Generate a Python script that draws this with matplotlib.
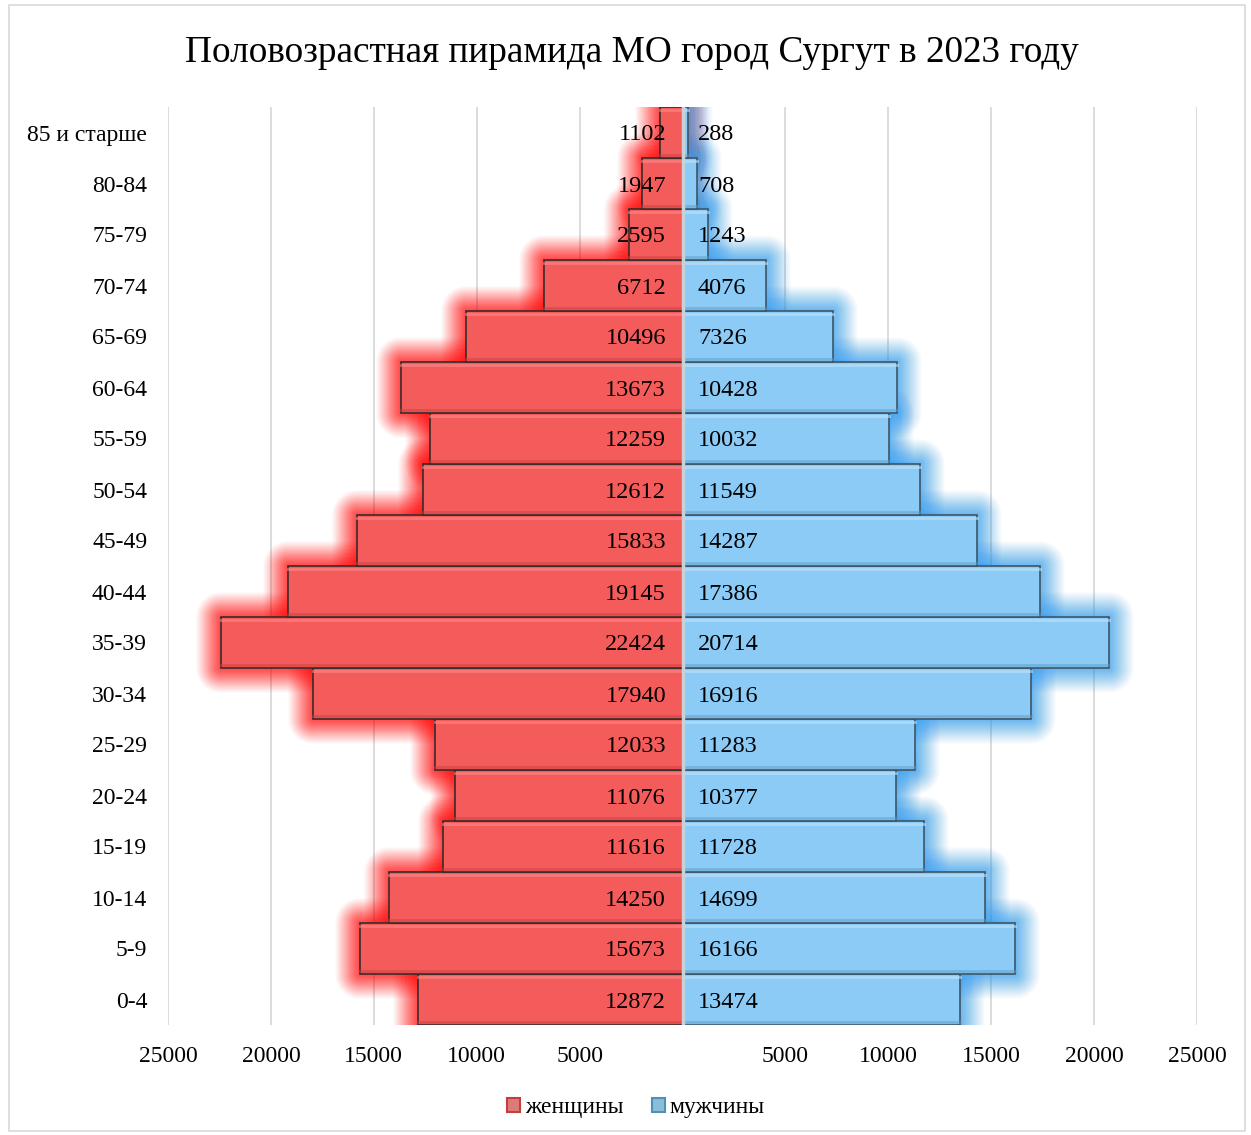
import matplotlib
matplotlib.use("Agg")
import matplotlib.pyplot as plt
import matplotlib.patheffects as pe
from matplotlib.patches import Rectangle
from matplotlib.ticker import FuncFormatter, MultipleLocator

plt.rcParams['font.family'] = ['Liberation Serif', 'DejaVu Serif']

title = "Половозрастная пирамида МО город Сургут в 2023 году"
ages = ["0-4", "5-9", "10-14", "15-19", "20-24", "25-29", "30-34", "35-39",
        "40-44", "45-49", "50-54", "55-59", "60-64", "65-69", "70-74",
        "75-79", "80-84", "85 и старше"]
women = [12872, 15673, 14250, 11616, 11076, 12033, 17940, 22424, 19145,
         15833, 12612, 12259, 13673, 10496, 6712, 2595, 1947, 1102]
men = [13474, 16166, 14699, 11728, 10377, 11283, 16916, 20714, 17386,
       14287, 11549, 10032, 10428, 7326, 4076, 1243, 708, 288]
series_names = ["женщины", "мужчины"]

W, H = 1251, 1135
fig = plt.figure(figsize=(W / 100, H / 100), dpi=100)
ax = fig.add_axes([168 / W, 1 - 1025 / H, (1197 - 168) / W, (1025 - 107) / H])

# figure border
fig.patches.append(Rectangle((9 / W, 4 / H), 1236 / W, 1126 / H, transform=fig.transFigure,
                             fill=False, edgecolor='#d9d9d9', linewidth=1.2))

y = list(range(len(ages)))
neg_women = [-v for v in women]

red_face = '#f45b5b'
red_glow = '#ff1010'
blue_face = '#8ccbf6'
blue_glow = '#3fa3f0'

def glow_effects(color):
    effs = []
    n = 24
    for i in range(n):
        lw = 36 - i * 1.45
        a = 0.025 + 0.05 * i / (n - 1)
        effs.append(pe.Stroke(linewidth=lw, foreground=color, alpha=a, joinstyle='round'))
    return effs

# glow layers
for vals, col in [(neg_women, red_glow), (men, blue_glow)]:
    g = ax.barh(y, vals, height=1.0, color=col, alpha=0.0, zorder=1)
    for p in g:
        p.set_path_effects(glow_effects(col))
        p.set_edgecolor(col)

# main bars
bw = ax.barh(y, neg_women, height=1.0, color=red_face, edgecolor='#3a2a2a',
             linewidth=1.2, zorder=3)
bm = ax.barh(y, men, height=1.0, color=blue_face, edgecolor='#3d5566',
             linewidth=1.2, zorder=3)

# bevel shading
for bars, dark, light in [(bw, '#c84040', '#ff8a8a'), (bm, '#5a9cc8', '#c2e4fb')]:
    for p in bars:
        x0, y0 = p.get_x(), p.get_y()
        w, h = p.get_width(), p.get_height()
        xl, xr = min(x0, x0 + w), max(x0, x0 + w)
        ax.plot([xl, xr], [y0 + h - 0.06, y0 + h - 0.06], color=light, lw=2.0, alpha=0.6, zorder=3.5)
        ax.plot([xl, xr], [y0 + 0.06, y0 + 0.06], color=dark, lw=2.0, alpha=0.5, zorder=3.5)

ax.axvline(0, color='#c8d0d8', lw=2.5, zorder=4)

# value labels
for yi, v in zip(y, women):
    ax.text(-800, yi, f"{v}", ha='right', va='center_baseline', fontsize=17.5, zorder=5)
for yi, v in zip(y, men):
    ax.text(750, yi, f"{v}", ha='left', va='center_baseline', fontsize=17.5, zorder=5)

ax.set_xlim(-25000, 25000)
ax.set_ylim(-0.5, len(ages) - 0.5)
ax.xaxis.set_major_locator(MultipleLocator(5000))
ax.xaxis.set_major_formatter(FuncFormatter(lambda v, _: "" if abs(v) < 1 else f"{abs(int(round(v)))}"))
ax.grid(axis='x', color='#d9d9d9', lw=1.3, zorder=0)
ax.set_axisbelow(True)
ax.set_yticks(y)
ax.set_yticklabels(ages, va='center_baseline')
ax.tick_params(axis='both', length=0, labelsize=17)
ax.tick_params(axis='y', pad=15)
ax.tick_params(axis='x', pad=15)
for s in ax.spines.values():
    s.set_visible(False)

fig.text(632 / W, 1 - 53 / H, title, ha='center', va='center', fontsize=26.8)

handles = [Rectangle((0, 0), 1, 1, facecolor='#e07a7a', edgecolor='#c04040', lw=1.5),
           Rectangle((0, 0), 1, 1, facecolor='#8cbdd8', edgecolor='#5090b8', lw=1.5)]
fig.legend(handles, series_names, loc='center', bbox_to_anchor=(636 / W, 1 - 1108 / H),
           ncol=2, frameon=False, fontsize=17, handlelength=0.55, handleheight=0.55,
           handletextpad=0.2, columnspacing=1.2)

fig.savefig("out.png", dpi=100)
